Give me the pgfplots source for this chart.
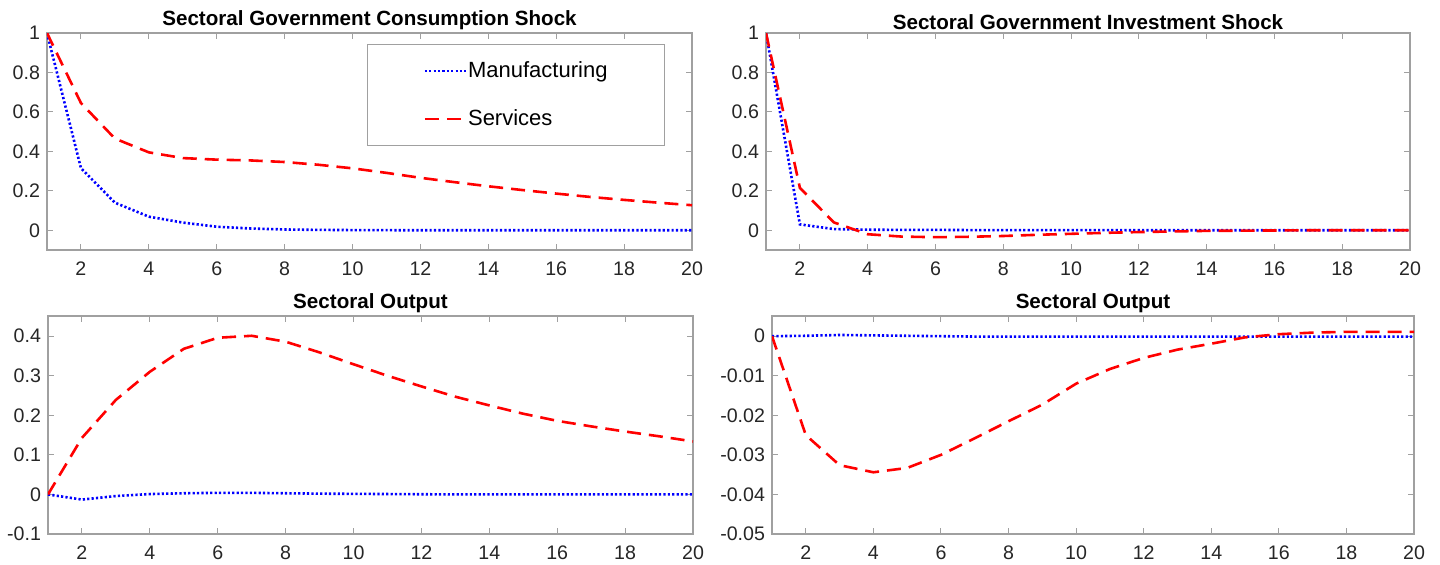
\documentclass[border=0pt]{standalone}
\usepackage{fontspec}
\setmainfont{Liberation Sans}
\usepackage{pgfplots}
\pgfplotsset{compat=1.18}

\definecolor{axgray}{HTML}{A0A0A0}
\definecolor{lblgray}{HTML}{262626}

\pgfplotsset{
  irf/.style={
    scale only axis,
    anchor=south west,
    xmin=1, xmax=20,
    xtick={2,4,...,20},
    tick align=inside,
    major tick length=3pt,
    axis line style={axgray, line width=0.6pt},
    tick style={axgray, line width=0.5pt},
    ticklabel style={font=\fontsize{9.8}{11}\selectfont, text=lblgray},
    xticklabel style={yshift=-2.5pt},
    scaled y ticks=false,
    /pgf/number format/assume math mode=true,
    /pgf/number format/fixed,
    every axis title shift=0pt,
    title style={font=\bfseries\fontsize{10.3}{12}\selectfont, at={(0.5,1)}, anchor=south, inner sep=2pt, yshift=-0.5pt},
    clip=true,
  },
  manu/.style={blue, line width=1.3pt, dash pattern=on 1.1pt off 1.1pt},
  serv/.style={red, line width=1.3pt, dash pattern=on 7pt off 4pt},
}

\begin{document}
\begin{tikzpicture}
\useasboundingbox (0,0) rectangle (720pt,282pt);

% top left
\begin{axis}[irf, at={(23.5pt,157pt)}, width=322.5pt, height=108.5pt,
  ymin=-0.1, ymax=1, ytick={0,0.2,...,1},
  yticklabels={0,0.2,0.4,0.6,0.8,1},
  title={Sectoral Government Consumption Shock},
  legend style={at={(0.958,0.949)}, anchor=north east, draw=axgray, fill=white,
    font=\fontsize{11}{12}\selectfont, inner xsep=28pt, inner ysep=8pt,
    row sep=13.5pt, nodes={inner sep=0.5pt}},
  legend cell align=left,
  legend image code/.code={\draw[#1] (0pt,0pt) -- (20.5pt,0pt);},
  ]
\addplot[manu] coordinates {(1,1) (2,0.315) (3,0.14) (4,0.069) (5,0.039) (6,0.018) (7,0.009) (8,0.004) (9,0.002) (10,0.001) (11,0.0005) (12,0) (13,0) (14,0) (15,0) (16,0) (17,0) (18,0) (19,0) (20,0)};
\addlegendentry{Manufacturing}
\addplot[serv] coordinates {(1,1) (2,0.645) (3,0.465) (4,0.395) (5,0.366) (6,0.358) (7,0.354) (8,0.346) (9,0.332) (10,0.314) (11,0.291) (12,0.266) (13,0.244) (14,0.223) (15,0.204) (16,0.186) (17,0.169) (18,0.154) (19,0.14) (20,0.127)};
\addlegendentry{Services}
\end{axis}

% top right
\begin{axis}[irf, at={(383pt,157pt)}, width=322pt, height=108.5pt,
  ymin=-0.1, ymax=1, ytick={0,0.2,...,1},
  yticklabels={0,0.2,0.4,0.6,0.8,1},
  title={Sectoral Government Investment Shock}]
\addplot[manu] coordinates {(1,1) (2,0.03) (3,0.006) (4,0.003) (5,0.002) (6,0.002) (7,0.001) (8,0.001) (9,0.001) (10,0.001) (11,0.001) (12,0) (13,0) (14,0) (15,0) (16,0) (17,0) (18,0) (19,0) (20,0)};
\addplot[serv] coordinates {(1,1) (2,0.215) (3,0.04) (4,-0.02) (5,-0.032) (6,-0.035) (7,-0.033) (8,-0.029) (9,-0.023) (10,-0.018) (11,-0.013) (12,-0.009) (13,-0.006) (14,-0.003) (15,-0.002) (16,-0.001) (17,0) (18,0) (19,0) (20,0)};
\end{axis}

% bottom left
\begin{axis}[irf, at={(24pt,15pt)}, width=322.5pt, height=109pt,
  ymin=-0.1, ymax=0.451, ytick={-0.1,0,0.1,0.2,0.3,0.4},
  yticklabels={-0.1,0,0.1,0.2,0.3,0.4},
  title={Sectoral Output}]
\addplot[manu] coordinates {(1,0) (2,-0.013) (3,-0.004) (4,0.001) (5,0.003) (6,0.004) (7,0.004) (8,0.003) (9,0.002) (10,0.0015) (11,0.001) (12,0.0005) (13,0) (14,0) (15,0) (16,0) (17,0) (18,0) (19,0) (20,0)};
\addplot[serv] coordinates {(1,0) (2,0.143) (3,0.239) (4,0.31) (5,0.368) (6,0.396) (7,0.401) (8,0.386) (9,0.359) (10,0.329) (11,0.3) (12,0.273) (13,0.247) (14,0.225) (15,0.204) (16,0.186) (17,0.172) (18,0.159) (19,0.147) (20,0.134)};
\end{axis}

% bottom right
\begin{axis}[irf, at={(386pt,15pt)}, width=321pt, height=109pt,
  ymin=-0.05, ymax=0.0051, ytick={-0.05,-0.04,-0.03,-0.02,-0.01,0},
  yticklabels={-0.05,-0.04,-0.03,-0.02,-0.01,0},
  title={Sectoral Output}]
\addplot[manu] coordinates {(1,0) (2,0.0001) (3,0.0003) (4,0.0002) (5,0.0001) (6,0) (7,-0.0001) (8,-0.0001) (9,-0.0001) (10,-0.0001) (11,-0.0001) (12,-0.0001) (13,-0.0001) (14,-0.0001) (15,-0.0001) (16,-0.0001) (17,-0.0001) (18,-0.0001) (19,-0.0001) (20,-0.0001)};
\addplot[serv] coordinates {(1,0) (2,-0.025) (3,-0.0326) (4,-0.0344) (5,-0.0333) (6,-0.03) (7,-0.0258) (8,-0.0215) (9,-0.0173) (10,-0.012) (11,-0.0083) (12,-0.0055) (13,-0.0034) (14,-0.0019) (15,-0.0003) (16,0.0005) (17,0.0009) (18,0.0011) (19,0.0011) (20,0.0011)};
\end{axis}
\end{tikzpicture}
\end{document}
